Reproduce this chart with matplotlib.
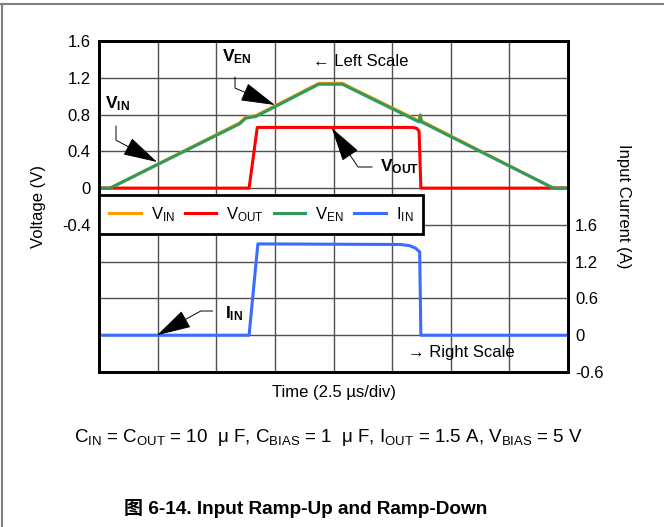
import numpy as np
import matplotlib
matplotlib.use("Agg")
import matplotlib.pyplot as plt
from matplotlib.lines import Line2D

plt.rcParams["font.family"] = ["Liberation Sans", "Noto Sans CJK SC", "DejaVu Sans"]
plt.rcParams["mathtext.fontset"] = "custom"
plt.rcParams["mathtext.rm"] = "Liberation Sans"
plt.rcParams["mathtext.bf"] = "Liberation Sans:bold"
plt.rcParams["mathtext.it"] = "Liberation Sans:italic"

# time in divisions (2.5 us/div)
t_en = [0, 0.19, 2.40, 2.50, 2.68, 3.75, 4.15, 5.46, 5.48, 5.50, 7.75, 8.0]
v_en = [0, 0, 0.70, 0.76, 0.78, 1.13, 1.13, 0.72, 0.79, 0.72, 0, 0]
t_vin = [0, 0.19, 2.40, 2.50, 2.68, 3.75, 4.15, 5.46, 5.48, 5.50, 7.75, 8.0]
v_in = [0, 0, 0.71, 0.77, 0.79, 1.14, 1.14, 0.73, 0.80, 0.73, 0, 0]
t_out = [0, 2.56, 2.70, 5.35, 5.42, 5.46, 5.49, 8.0]
v_out = [0, 0, 0.66, 0.66, 0.65, 0.62, 0, 0]
t_iin = [0, 2.56, 2.71, 5.15, 5.30, 5.40, 5.47, 5.49, 8.0]
i_in = [0, 0, 1.49, 1.48, 1.46, 1.42, 1.36, 0, 0]

left_ticks = [-2.0, -1.6, -1.2, -0.8, -0.4, 0, 0.4, 0.8, 1.2, 1.6]
left_labels = ["", "", "", "", "-0.4", "0", "0.4", "0.8", "1.2", "1.6"]
right_ticks = [-0.6, 0, 0.6, 1.2, 1.8]
right_labels = ["-0.6", "0", "0.6", "1.2", "1.6"]

fig = plt.figure(figsize=(6.64, 5.27), dpi=100)
ax = fig.add_axes([99/664, 1-372/527, 469/664, 331/527])
ax2 = ax.twinx()

l1, = ax.plot(t_vin, v_in, color="#ff9a00", lw=2.2, label=r"$\mathregular{V_{IN}}$")
l2, = ax.plot(t_out, v_out, color="#ff0000", lw=2.2, label=r"$\mathregular{V_{OUT}}$")
l3, = ax.plot(t_en, v_en, color="#2e9a5e", lw=2.2, label=r"$\mathregular{V_{EN}}$")
l4, = ax2.plot(t_iin, i_in, color="#3b6cff", lw=2.2, label=r"$\mathregular{I_{IN}}$")

ax.set_xlim(0, 8)
ax.set_ylim(-2.0, 1.6)
ax2.set_ylim(-0.6, 4.8)
ax.set_xticks(range(9))
ax.set_xticklabels([])
ax.set_yticks(left_ticks)
ax.set_yticklabels(left_labels, fontsize=12)
ax2.set_yticks(right_ticks)
ax2.set_yticklabels(right_labels, fontsize=12)
ax.tick_params(length=0, pad=6)
ax2.tick_params(length=0, pad=5)
ax.grid(True, color="#505050", lw=1.0)
for a in (ax, ax2):
    for s in a.spines.values():
        s.set_linewidth(2)
        s.set_color("black")

leg = ax2.legend(handles=[l1, l2, l3, l4], ncol=4, loc="upper left",
                 bbox_to_anchor=(0, 0.535), borderaxespad=0, fancybox=False,
                 fontsize=12, handlelength=1.9, handletextpad=0.6,
                 columnspacing=0.6, borderpad=0.6, framealpha=1)
leg.get_frame().set_edgecolor("black")
leg.get_frame().set_linewidth(2)

arrow = dict(arrowstyle="-|>,head_length=2.2,head_width=0.6", color="black",
             lw=0.7, shrinkA=0, shrinkB=0)

ax2.text(0.10, 4.8 - (104-41)*0.016314, r"$\mathbf{V_{IN}}$", fontsize=12.5, va="center", ha="left")
ax2.annotate("", xy=(0.99, 4.8 - (162-41)*0.016314), xytext=(0.29, 4.8 - (126-41)*0.016314),
             arrowprops=dict(arrow, connectionstyle="angle,angleA=90,angleB=-28,rad=0"))

ax2.text(2.10, 4.8 - (57-41)*0.016314, r"$\mathbf{V_{EN}}$", fontsize=12.5, va="center", ha="left")
ax2.annotate("", xy=(3.00, 4.8 - (105-41)*0.016314), xytext=(2.32, 4.8 - (77-41)*0.016314),
             arrowprops=dict(arrow, connectionstyle="angle,angleA=90,angleB=-23,rad=0"))

ax2.text(4.79, 4.8 - (167-41)*0.016314, r"$\mathbf{V_{OUT}}$", fontsize=12.5, va="center", ha="left")
ax2.annotate("", xy=(3.97, 4.8 - (128-41)*0.016314), xytext=(4.66, 4.8 - (167-41)*0.016314),
             arrowprops=dict(arrow, connectionstyle="angle,angleA=0,angleB=124,rad=0"))

ax2.text(2.15, 0.36, r"$\mathbf{I_{IN}}$", fontsize=12.5, va="center", ha="left")
ax2.annotate("", xy=(0.99, 0.0), xytext=(1.94, 0.395),
             arrowprops=dict(arrow, connectionstyle="angle,angleA=0,angleB=29,rad=0"))

ax2.text(3.65, 4.8 - (62-41)*0.016314, "\u2190 Left Scale", fontsize=12, va="center", ha="left")
ax2.text(5.27, -0.29, "\u2192 Right Scale", fontsize=12, va="center", ha="left")

fig.text(39/664, 1-206/527, "Voltage (V)", rotation=90, fontsize=12, ha="center", va="center")
fig.text(623/664, 1-206/527, "Input Current (A)", rotation=-90, fontsize=12, ha="center", va="center")
fig.text(334/664, 1-393/527, "Time (2.5 \u00b5s/div)", fontsize=12, ha="center", va="center")

fig.text(329/664, 1-437/527,
         r"$\mathregular{C_{IN}}$ = $\mathregular{C_{OUT}}$ = 10  μ F, $\mathregular{C_{BIAS}}$ = 1  μ F, "
         r"$\mathregular{I_{OUT}}$ = 1.5 A, $\mathregular{V_{BIAS}}$ = 5 V",
         fontsize=13.5, ha="center", va="center")
fig.text(306/664, 1-508/527, "\u56fe 6-14. Input Ramp-Up and Ramp-Down", fontsize=13.7,
         fontweight="bold", ha="center", va="center")

# gray page border (top and left)
fig.add_artist(Line2D([0, 1], [1-4/527, 1-4/527], color="#808080", lw=1.5))
fig.add_artist(Line2D([1.5/664, 1.5/664], [0, 1-4/527], color="#808080", lw=1.5))

fig.savefig("out.png", dpi=100)
